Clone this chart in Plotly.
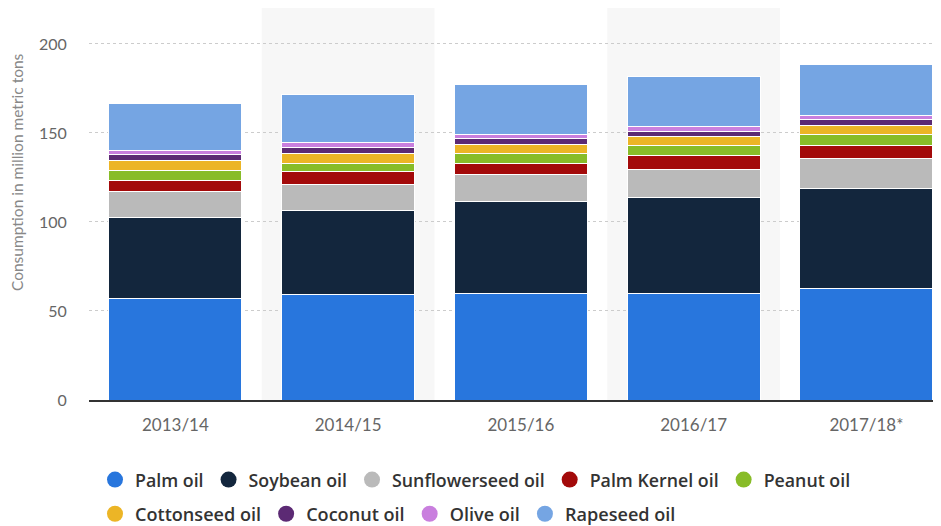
import plotly.graph_objects as go

years = ["2013/14", "2014/15", "2015/16", "2016/17", "2017/18*"]
palm_oil = [57.1, 59.0, 59.8, 59.7, 62.9]
soybean_oil = [45.3, 47.6, 51.6, 54.1, 56.0]
sunflowerseed_oil = [14.5, 14.4, 15.3, 15.9, 16.8]
palm_kernel_oil = [6.5, 7.2, 6.4, 7.5, 7.0]
peanut_oil = [5.6, 4.9, 5.6, 5.5, 6.7]
cottonseed_oil = [5.8, 5.6, 4.9, 5.1, 4.8]
coconut_oil = [3.3, 3.3, 3.3, 3.2, 3.1]
olive_oil = [2.3, 2.5, 2.5, 2.4, 2.3]
rapeseed_oil = [26.3, 27.2, 27.7, 28.6, 29.0]

series = [
    ("Palm oil", palm_oil, "#2876dd"),
    ("Soybean oil", soybean_oil, "#13263d"),
    ("Sunflowerseed oil", sunflowerseed_oil, "#bababa"),
    ("Palm Kernel oil", palm_kernel_oil, "#a30a0a"),
    ("Peanut oil", peanut_oil, "#88bc28"),
    ("Cottonseed oil", cottonseed_oil, "#ecb526"),
    ("Coconut oil", coconut_oil, "#5c2a74"),
    ("Olive oil", olive_oil, "#c97fde"),
    ("Rapeseed oil", rapeseed_oil, "#75a5e3"),
]

FONT = "Lato, sans-serif"
LEG_FONT = "Open Sans, sans-serif"

fig = go.Figure()
for name, vals, col in series:
    fig.add_trace(go.Bar(
        x=years, y=vals, name=name, marker=dict(color=col, line=dict(color="white", width=1)),
        width=0.77, showlegend=False, hoverinfo="y+name"))

for i, (name, vals, col) in enumerate(series):
    fig.add_trace(go.Scatter(
        x=[None], y=[None], mode="markers", name=name,
        marker=dict(symbol="circle", size=18, color=col),
        legend="legend" if i < 5 else "legend2"))

for i in (1, 3):
    fig.add_shape(type="rect", xref="x", yref="paper", x0=i - 0.5, x1=i + 0.5, y0=0, y1=1,
                  fillcolor="#f7f7f7", line=dict(width=0), layer="below")

fig.add_annotation(text="Consumption in million metric tons", textangle=-90,
                   xref="paper", yref="paper", x=-0.0837, y=0.5816,
                   xanchor="center", yanchor="middle", showarrow=False,
                   font=dict(family=FONT, size=15.5, color="#888"))

legend_common = dict(orientation="h", xref="container", yref="container", xanchor="left",
                     yanchor="middle", traceorder="normal",
                     bgcolor="rgba(0,0,0,0)", itemwidth=30, itemclick=False, itemdoubleclick=False)

fig.update_layout(
    width=941, height=526,
    margin=dict(l=81, r=0, t=0, b=134, autoexpand=False),
    plot_bgcolor="white", paper_bgcolor="white",
    barmode="stack", bargap=0.23,
    font=dict(family=FONT, color="#666"),
    xaxis=dict(range=[-0.5, 4.478], showgrid=False, showline=True, linecolor="#333", linewidth=1.5,
               ticks="outside", ticklen=9, tickcolor="rgba(0,0,0,0)", automargin=False,
               tickfont=dict(family=FONT, size=17, color="#666"), fixedrange=True),
    yaxis=dict(range=[0, 220.2], tickvals=[0, 50, 100, 150, 200], showgrid=True,
               gridcolor="#cccccc", griddash="dot", gridwidth=1, zeroline=False,
               ticks="outside", ticklen=18, tickcolor="rgba(0,0,0,0)", automargin=False,
               tickfont=dict(family=FONT, size=16, color="#666"), fixedrange=True),
    legend=dict(x=87 / 941, y=1 - 472 / 526,
                font=dict(family=LEG_FONT, size=17.8, color="#333", weight=600), **legend_common),
    legend2=dict(x=87 / 941, y=1 - 506 / 526,
                 font=dict(family=LEG_FONT, size=18.1, color="#333", weight=600), **legend_common),
)

fig.write_html("out.html")
